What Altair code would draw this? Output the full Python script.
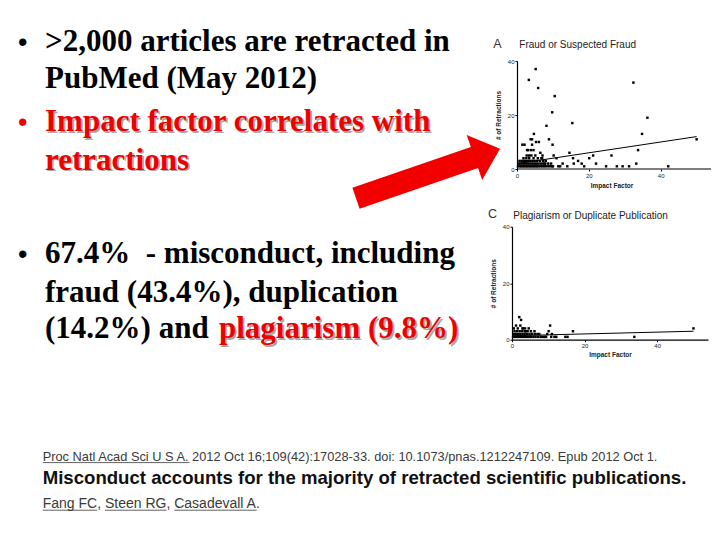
import altair as alt
import pandas as pd

# ---------------- content ----------------
bullet1_lines = [">2,000 articles are retracted in", "PubMed (May 2012)"]
bullet2_lines = ["Impact factor correlates with", "retractions"]
bullet3_lines = ["67.4%\u00a0 - misconduct, including", "fraud (43.4%), duplication", "(14.2%) and"]
bullet3_highlight = "plagiarism (9.8%)"

citation_journal = ("Proc Natl Acad Sci U S A. 2012 Oct 16;109(42):17028-33. "
                    "doi: 10.1073/pnas.1212247109. Epub 2012 Oct 1.")
citation_title = "Misconduct accounts for the majority of retracted scientific publications."
citation_authors = "Fang FC, Steen RG, Casadevall A."

panel_a_letter = "A"
panel_a_title = "Fraud or Suspected Fraud"
panel_c_letter = "C"
panel_c_title = "Plagiarism or Duplicate Publication"
x_title = "Impact Factor"
y_title = "# of Retractions"
x_ticks = [0, 10, 20, 30, 40, 50]
y_ticks = [0, 10, 20, 30, 40]

# Panel A: fraud or suspected fraud (impact factor, # retractions)
fraud_if = [3.3, 5.2, 5.9, 10.5, 9.8, 8.2, 15.4, 32.4, 36.3, 34.8, 50.0, 4.7, 3.8, 4.2,
            5.3, 6.1, 8.9, 9.9, 1.5, 2.1, 2.8, 3.1, 3.9, 4.6, 4.2, 4.0, 3.4, 2.7, 5.1,
            6.5, 7.1, 6.8, 10.2, 11.0, 14.6, 15.6, 17.0, 20.1, 21.2, 26.3, 33.7, 33.2,
            12.7, 12.0, 15.8, 18.7, 24.8, 27.8, 29.4, 31.2, 42.1, 22.0, 18.0, 10.0, 11.5,
            14.0, 9.5, 8.0, 7.6,
            0.3, 0.8, 1.2, 1.6, 2.0, 2.4, 2.8, 3.2, 3.6, 4.0, 4.4, 4.8, 5.2, 5.6, 6.0,
            6.5, 7.0, 7.5, 8.0, 8.6, 9.2, 9.8,
            0.5, 1.0, 1.5, 2.0, 2.5, 3.0, 3.5, 4.0, 4.5, 5.0, 5.5, 6.0, 6.6, 7.2, 7.9, 8.7,
            0.7, 1.3, 1.9, 2.5, 3.1, 3.7, 4.3, 4.9, 5.6, 6.4, 7.3,
            1.8, 2.6, 3.4, 4.6, 5.8, 7.0]
fraud_n = [33, 37, 30, 27, 21, 16, 17, 32, 19, 13, 11, 13, 11, 11,
           10, 10, 11, 9, 9, 9, 7, 7, 7, 7, 9, 5, 5, 5, 5,
           6, 5, 4, 5, 4, 6, 4, 3, 4, 5, 5, 7, 2,
           2, 1, 2, 1, 1, 1, 1, 1, 1, 2, 2, 1, 1,
           1, 2, 3, 2,
           1, 1, 1, 1, 1, 1, 1, 1, 1, 1, 1, 1, 1, 1, 1,
           1, 1, 1, 1, 1, 1, 1,
           2, 2, 2, 2, 2, 2, 2, 2, 2, 2, 2, 2, 2, 2, 2, 2,
           3, 3, 3, 3, 3, 3, 3, 3, 3, 3, 3,
           4, 4, 4, 4, 4, 4]
fraud_fit_if = [0, 50]
fraud_fit_n = [2.0, 12.0]

# Panel C: plagiarism or duplicate publication
plag_if = [2.0, 2.5, 10.5, 16.8, 33.7, 50.0, 10.1, 6.2, 1.1, 2.3, 4.6, 0.5, 14.7, 15.3,
           11.7, 11.0, 3.0, 3.8, 5.5, 7.0, 8.0, 9.0, 9.7, 10.8, 12.2,
           0.3, 0.8, 1.3, 1.8, 2.3, 2.8, 3.3, 3.8, 4.3, 4.8, 5.3, 5.9, 6.5, 7.2, 7.9, 8.6, 9.4,
           0.5, 1.1, 1.7, 2.3, 2.9, 3.5, 4.1, 4.8, 5.5, 6.3, 7.5,
           0.7, 1.4, 2.1, 2.8, 3.5, 4.3, 5.2,
           1.6, 2.9, 3.6]
plag_n = [8, 7, 5, 3, 1, 4, 3, 3, 5, 5, 4, 4, 1, 1,
          1, 2, 4, 3, 2, 2, 1, 1, 2, 1, 1,
          1, 1, 1, 1, 1, 1, 1, 1, 1, 1, 1, 1, 1, 1, 1, 1, 1,
          2, 2, 2, 2, 2, 2, 2, 2, 2, 2, 2,
          3, 3, 3, 3, 3, 3, 3,
          4, 4, 4]
plag_fit_if = [0, 50]
plag_fit_n = [1.4, 3.0]

# ---------------- styles / layout (page pixels) ----------------
SERIF = "Liberation Serif"
SANS = "Liberation Sans"
RED = "#ee0000"
SLIDE_SIZE = 31
OX, OY = 512, 61            # page position of panel A's plot origin
TEXT_X, BULLET_X = 45, 18
baselines = [50.5, 88.3, 131.0, 169.8, 263.3, 301.7, 338.3]
HIGHLIGHT_X = 219
CITE_X = 42.7


def at(t, x, y, align="left", **style):
    """A text mark placed at page pixel (x, y), relative to panel A's origin."""
    return alt.Chart(pd.DataFrame({"t": [t]})).mark_text(
        align=align, baseline="alphabetic", **style
    ).encode(x=alt.value(x - OX), y=alt.value(y - OY), text="t:N")


slide = []
black = dict(font=SERIF, fontSize=SLIDE_SIZE, fontWeight="bold", color="#000000")
red = dict(font=SERIF, fontSize=SLIDE_SIZE, fontWeight="bold", color=RED)
shadow = dict(font=SERIF, fontSize=SLIDE_SIZE, fontWeight="bold", color="#a8a8a8", dx=1.6, dy=1.6)
bul = dict(font=SANS, fontSize=27)

# bullet 1
slide.append(at("\u2022", BULLET_X, baselines[0], color="#000000", **bul))
for line, y in zip(bullet1_lines, baselines[0:2]):
    slide.append(at(line, TEXT_X, y, **black))
# bullet 2 (red with shadow)
slide.append(at("\u2022", BULLET_X, baselines[2], color=RED, **bul))
for line, y in zip(bullet2_lines, baselines[2:4]):
    slide.append(at(line, TEXT_X, y, **shadow))
    slide.append(at(line, TEXT_X, y, **red))
# bullet 3
slide.append(at("\u2022", BULLET_X, baselines[4], color="#000000", **bul))
for line, y in zip(bullet3_lines, baselines[4:7]):
    slide.append(at(line, TEXT_X, y, **black))
slide.append(at(bullet3_highlight, HIGHLIGHT_X, baselines[6], **shadow))
slide.append(at(bullet3_highlight, HIGHLIGHT_X, baselines[6], **red))

# red arrow pointing at panel A
arrow_path = ("M -1 -0.145 L 0.645 -0.145 L 0.645 -0.312 L 1 0 "
              "L 0.645 0.312 L 0.645 0.145 L -1 0.145 Z")
slide.append(
    alt.Chart(pd.DataFrame({"a": [0]})).mark_point(
        shape=arrow_path, filled=True, size=23195, angle=341, color="#f20000",
        opacity=1, strokeWidth=0,
    ).encode(x=alt.value(428 - OX), y=alt.value(173.5 - OY))
)

# citation block
slide.append(at(citation_journal, CITE_X, 460.7, font=SANS, fontSize=12.8, color="#3a3a3a"))
slide.append(at(citation_title, CITE_X, 483.5, font=SANS, fontSize=18.6, fontWeight="bold",
                color="#111111"))
slide.append(at(citation_authors, CITE_X, 508.0, font=SANS, fontSize=14, color="#3a3a3a"))
underline_x = [42.7, 42.7, 105.0, 174.3]
underline_x2 = [189.5, 97.2, 166.5, 256.8]
underline_y = [462.6, 510.2, 510.2, 510.2]
for x1, x2, y in zip(underline_x, underline_x2, underline_y):
    slide.append(
        alt.Chart(pd.DataFrame({"a": [0]})).mark_rule(color="#3a3a3a", strokeWidth=0.8).encode(
            x=alt.value(x1 - OX), x2=alt.value(x2 - OX), y=alt.value(y - OY)
        )
    )

# invisible anchor fixing the page's top-left corner (page pixel 8, 8)
slide.append(
    alt.Chart(pd.DataFrame({"a": [0]})).mark_rule(strokeWidth=0, opacity=0).encode(
        x=alt.value(8 - OX), x2=alt.value(9 - OX), y=alt.value(8 - OY)
    )
)


def scatter_panel(xs, ys, fx, fy, width, height, x_min, y_axis_offset, show_x_domain,
                  letter, title, letter_x, letter_y, title_x, title_y, x_title_pad, extra):
    pts = pd.DataFrame({"IF": xs, "N": ys})
    fit = pd.DataFrame({"IF": fx, "N": fy})
    xenc = alt.X("IF:Q", scale=alt.Scale(domain=[x_min, 54], nice=False, zero=False),
                 axis=alt.Axis(values=x_ticks, title=x_title, titlePadding=x_title_pad,
                               domain=show_x_domain, labelOverlap=False, labelFlush=False))
    yenc = alt.Y("N:Q", scale=alt.Scale(domain=[0, 40], nice=False),
                 axis=alt.Axis(values=y_ticks, title=y_title, titlePadding=6,
                               offset=y_axis_offset, labelOverlap=False, labelFlush=False))
    points = alt.Chart(pts).mark_point(shape="square", filled=True, size=6,
                                        color="#000000", opacity=1).encode(x=xenc, y=yenc)
    line = alt.Chart(fit).mark_line(color="#000000", strokeWidth=1).encode(x="IF:Q", y="N:Q")
    letter_mark = alt.Chart(pd.DataFrame({"t": [letter]})).mark_text(
        align="center", baseline="alphabetic", font=SANS, fontSize=12.5, color="#333333"
    ).encode(x=alt.value(letter_x), y=alt.value(letter_y), text="t:N")
    title_mark = alt.Chart(pd.DataFrame({"t": [title]})).mark_text(
        align="left", baseline="alphabetic", font=SANS, fontSize=10, color="#222222"
    ).encode(x=alt.value(title_x), y=alt.value(title_y), text="t:N")
    layers = [points, line, letter_mark, title_mark]
    if not show_x_domain:
        base = pd.DataFrame({"IF": [0], "IF2": [54], "N": [0]})
        layers.append(alt.Chart(base).mark_rule(color="#000000", strokeWidth=1.2).encode(
            x="IF:Q", x2="IF2:Q", y="N:Q"))
    return alt.layer(*layers, *extra).properties(width=width, height=height)


# panel A: plot area 512..711 px, zero at 517 px
panel_a = scatter_panel(fraud_if, fraud_n, fraud_fit_if, fraud_fit_n, 199, 108, -1.39, -5, False,
                        panel_a_letter, panel_a_title, -14.5, -12.7, 7.3, -12.7, 4, slide)
# panel C: plot area 512..708 px
panel_c = scatter_panel(plag_if, plag_n, plag_fit_if, plag_fit_n, 196, 113, 0, 0, True,
                        panel_c_letter, panel_c_title, -19.5, -8.7, 1.3, -7.4, 2.5, [])

chart = alt.vconcat(panel_a, panel_c, spacing=57.7, bounds="flush").properties(
    padding=0, background="#ffffff"
).configure_view(stroke=None).configure_axis(
    grid=False,
    domainColor="#000000",
    domainWidth=1.2,
    tickColor="#000000",
    tickSize=2,
    tickWidth=1,
    labelFont=SANS,
    labelFontSize=6,
    labelColor="#222222",
    labelPadding=1,
    titleFont=SANS,
    titleFontSize=6.5,
    titleFontWeight="bold",
    titleColor="#222222",
)

chart.save("out.html", embed_options={"renderer": "svg", "actions": False})
